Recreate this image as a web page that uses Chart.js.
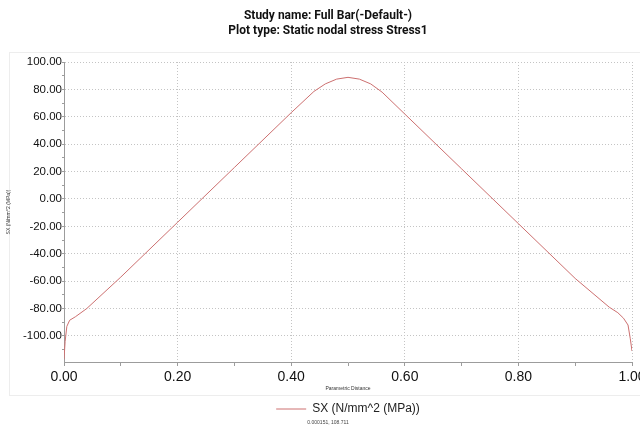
<!DOCTYPE html>
<html>
<head>
<meta charset="utf-8">
<script src="https://cdn.jsdelivr.net/npm/chart.js@4/dist/chart.umd.min.js"></script>
<style>
  html, body { margin: 0; padding: 0; background: #ffffff; }
  #wrap { width: 640px; height: 438px; }
</style>
</head>
<body>
<div id="wrap"><canvas id="c" width="640" height="438"></canvas></div>
<script>
// ---- data ----
const titleLines = ['Study name: Full Bar(-Default-)', 'Plot type: Static nodal stress Stress1'];
const seriesName = 'SX (N/mm^2 (MPa))';
const xAxisTitle = 'Parametric Distance';
const yAxisTitle = 'SX (N/mm^2 (MPa))';
const cursorText = '0.000151, 108.711';
const paramDistance = [0, 0.002, 0.005, 0.01, 0.02, 0.04, 0.1, 0.2, 0.3, 0.4, 0.44, 0.46, 0.48, 0.5, 0.52, 0.54, 0.56, 0.6, 0.7, 0.8, 0.9, 0.96, 0.975, 0.985, 0.993, 0.997, 1.0];
const sxValues = [-117, -104, -93, -88.5, -86, -80, -57, -17, 23, 63, 78.5, 84, 87.5, 88.8, 87.5, 84, 78, 62, 22, -18, -58, -79, -83, -87, -92, -102, -111];
const yMin = -119, yMax = 100;
const xMin = 0, xMax = 1;

const points = paramDistance.map((x, i) => ({ x: x, y: sxValues[i] }));

const panelPlugin = {
  id: 'panel',
  afterLayout(chart) {
    const ca = chart.chartArea;
    const lg = chart.legend;
    if (lg) {
      lg.left = ca.left;
      lg.right = ca.right;
      lg.width = lg.right - lg.left;
    }
    chart.boxes.forEach(b => {
      if (b.options && (b.options.text === cursorText || b.options.text === titleLines)) {
        b.left = ca.left;
        b.right = ca.right - 40;
        b.width = b.right - b.left;
      }
    });
  },
  beforeDraw(chart) {
    const ctx = chart.ctx;
    ctx.save();
    ctx.fillStyle = '#ffffff';
    ctx.fillRect(0, 0, chart.width, chart.height);
    ctx.strokeStyle = '#ededed';
    ctx.lineWidth = 1;
    ctx.strokeRect(9.5, 52.5, chart.width, 343);
    ctx.restore();
  }
};

const gridColor = '#c4c4c4';
const axisColor = '#9c9c9c';
const fontFamily = 'Liberation Sans, Arial, sans-serif';

new Chart(document.getElementById('c'), {
  type: 'line',
  data: {
    datasets: [{
      label: seriesName,
      data: points,
      borderColor: '#cd7070',
      backgroundColor: '#cd7070',
      borderWidth: 1,
      pointRadius: 0,
      tension: 0,
      fill: false
    }]
  },
  options: {
    responsive: false,
    animation: false,
    events: [],
    layout: { padding: { left: 0, right: 8, top: 0, bottom: 0 } },
    scales: {
      x: {
        type: 'linear',
        min: xMin, max: xMax,
        afterBuildTicks(scale) {
          const t = [];
          for (let i = 0; i <= 10; i++) t.push({ value: i / 10 });
          scale.ticks = t;
        },
        afterFit(scale) { scale.height = 30; scale.paddingRight = 0; },
        ticks: {
          autoSkip: false,
          maxRotation: 0,
          padding: 3,
          color: '#111',
          font: { family: fontFamily, size: 14 },
          callback(v) { return Math.round(v * 10) % 2 === 0 ? v.toFixed(2) : ''; }
        },
        grid: {
          color(c) { return c.tick && Math.round(c.tick.value * 10) % 2 === 0 ? gridColor : 'rgba(0,0,0,0)'; },
          tickColor: axisColor,
          tickLength: 4,
          lineWidth: 1
        },
        border: { display: true, color: axisColor, width: 1, dash: [1, 2] },
        title: {
          display: true, text: xAxisTitle, color: '#333',
          font: { family: fontFamily, size: 5 },
          padding: { top: 0, bottom: 0 }
        }
      },
      y: {
        type: 'linear',
        min: yMin, max: yMax,
        afterBuildTicks(scale) {
          const t = [];
          for (let v = -110; v <= 100; v += 10) t.push({ value: v });
          scale.ticks = t;
        },
        afterFit(scale) { scale.width = 64; },
        ticks: {
          autoSkip: false,
          padding: 0,
          color: '#111',
          font: { family: fontFamily, size: 11.5 },
          callback(v) { return Math.round(v) % 20 === 0 ? v.toFixed(2) : ''; }
        },
        grid: {
          color(c) { return c.tick && Math.round(c.tick.value) % 20 === 0 ? gridColor : 'rgba(0,0,0,0)'; },
          tickColor: axisColor,
          tickLength: 2,
          lineWidth: 1
        },
        border: { display: true, color: axisColor, width: 1, dash: [1, 2] },
        title: {
          display: true, text: yAxisTitle, color: '#333',
          font: { family: fontFamily, size: 5 },
          padding: { top: 6, bottom: 0 }
        }
      }
    },
    plugins: {
      title: {
        display: true,
        text: titleLines,
        color: '#111',
        font: { family: 'Roboto, Liberation Sans, Arial, sans-serif', size: 12, weight: 'bold', lineHeight: 1.25 },
        padding: { top: 8, bottom: 24 }
      },
      legend: {
        display: true,
        position: 'bottom',
        maxHeight: 25,
        labels: {
          color: '#222',
          font: { family: fontFamily, size: 12 },
          usePointStyle: true,
          pointStyle: 'line',
          pointStyleWidth: 30,
          boxHeight: 12,
          padding: 11
        }
      },
      subtitle: {
        display: true,
        position: 'bottom',
        text: cursorText,
        color: '#444',
        font: { family: fontFamily, size: 5 },
        padding: { top: 3, bottom: 12 }
      },
      tooltip: { enabled: false }
    }
  },
  plugins: [panelPlugin]
});
</script>
</body>
</html>
